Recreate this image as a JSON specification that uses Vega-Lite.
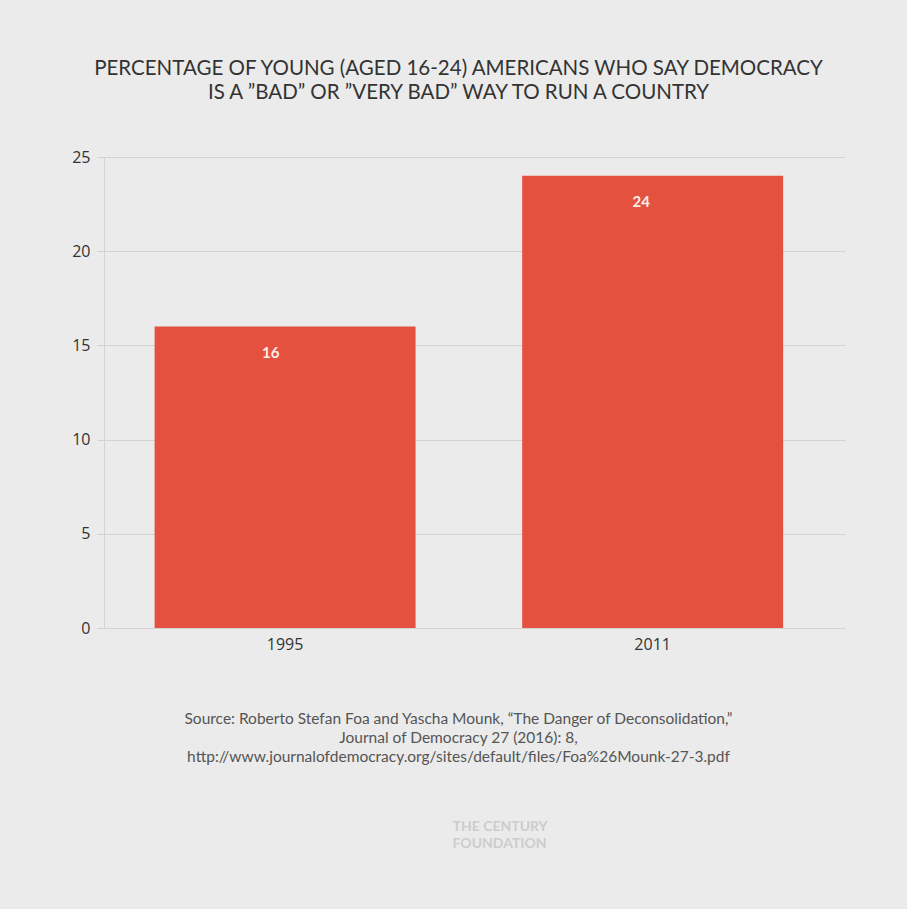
{
  "$schema": "https://vega.github.io/schema/vega-lite/v6.json",
  "width": 741,
  "height": 471,
  "autosize": {"type": "none"},
  "padding": {"left": 104, "top": 157, "right": 62, "bottom": 281},
  "background": "#ebebeb",
  "title": {
    "text": ["PERCENTAGE OF YOUNG (AGED 16-24) AMERICANS WHO SAY DEMOCRACY", "IS A \u201dBAD\u201d OR \u201dVERY BAD\u201d WAY TO RUN A COUNTRY"],
    "font": "Lato",
    "fontSize": 20.5,
    "fontWeight": "normal",
    "color": "#333333",
    "anchor": "middle",
    "frame": "group",
    "dx": -16,
    "offset": 46,
    "lineHeight": 24
  },
  "data": {"values": [{"year": "1995", "value": 16}, {"year": "2011", "value": 24}]},
  "resolve": {"scale": {"x": "independent"}, "axis": {"x": "independent"}},
  "layer": [
    {
      "mark": {"type": "bar", "color": "#e5513f"},
      "encoding": {
        "x": {
          "field": "year", "type": "nominal",
          "scale": {"paddingInner": 0.29, "paddingOuter": 0.153, "align": 0.45},
          "axis": {
            "orient": "bottom",
            "labelAngle": 0, "ticks": false, "domain": false, "grid": false,
            "labelFont": "Open Sans", "labelFontSize": 16, "labelColor": "#333333", "labelPadding": 8,
            "title": ["Source: Roberto Stefan Foa and Yascha Mounk, \u201cThe Danger of Deconsolidation,\u201d", "Journal of Democracy 27 (2016): 8,", "http://www.journalofdemocracy.org/sites/default/files/Foa%26Mounk-27-3.pdf"],
            "titleFont": "Lato", "titleFontSize": 15.5, "titleFontWeight": "normal", "titleColor": "#555555",
            "titleX": 354, "titleY": 83, "titleBaseline": "top", "titleLineHeight": 19, "titleAlign": "center"
          }
        },
        "y": {
          "field": "value", "type": "quantitative",
          "scale": {"domain": [0, 25], "nice": false},
          "axis": {
            "values": [0, 5, 10, 15, 20, 25], "title": null,
            "tickSize": 7, "tickColor": "#d3d3d3", "gridColor": "#d3d3d3", "domainColor": "#d3d3d3",
            "labelFont": "Open Sans", "labelFontSize": 16, "labelColor": "#333333", "labelPadding": 7
          }
        }
      }
    },
    {
      "mark": {"type": "text", "color": "#fbefe9", "font": "Lato", "fontWeight": "bold", "fontSize": 15, "dy": 26, "baseline": "middle"},
      "encoding": {
        "x": {
          "field": "year", "type": "nominal",
          "scale": {"paddingInner": 0.29, "paddingOuter": 0.153, "align": 0.45},
          "axis": {
            "orient": "bottom",
            "labels": false, "ticks": false, "domain": false, "grid": false,
            "title": ["THE CENTURY", "FOUNDATION"],
            "titleFont": "Lato", "titleFontSize": 14, "titleFontWeight": "bold", "titleColor": "#cdcdcd",
            "titleX": 348, "titleY": 191, "titleBaseline": "top", "titleLineHeight": 17, "titleAlign": "left"
          }
        },
        "y": {"field": "value", "type": "quantitative", "scale": {"domain": [0, 25], "nice": false}},
        "text": {"field": "value", "type": "quantitative"}
      }
    }
  ],
  "config": {"view": {"stroke": null}}
}
